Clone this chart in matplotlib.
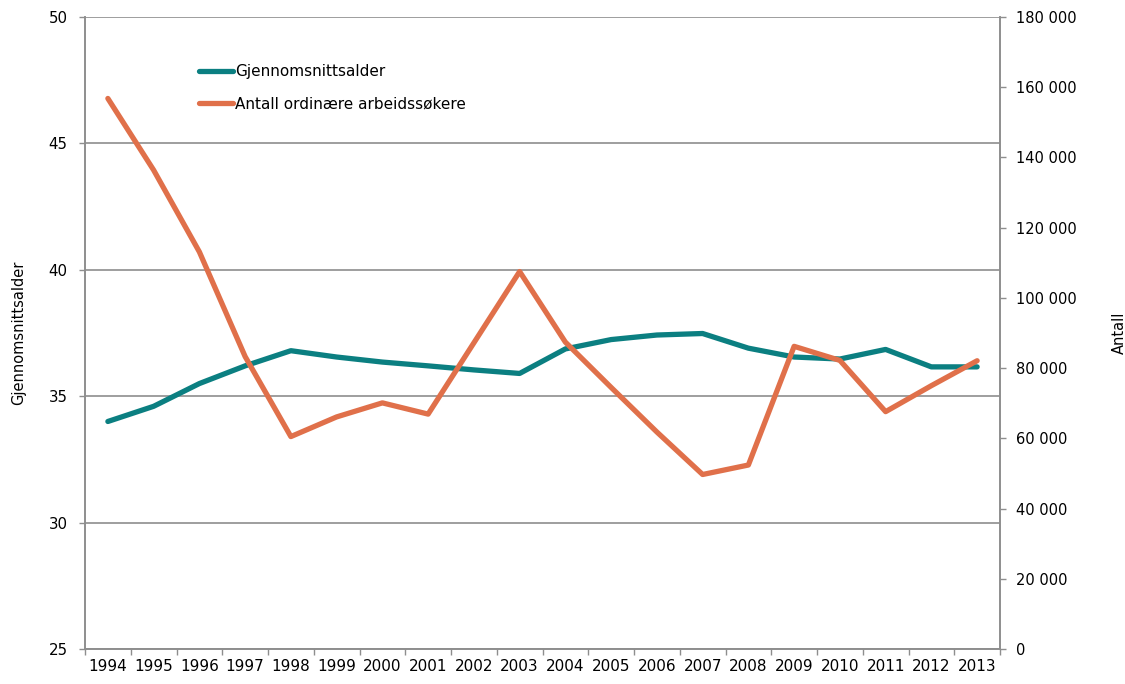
import matplotlib
matplotlib.use("Agg")
import matplotlib.pyplot as plt
from matplotlib.ticker import FixedLocator, FuncFormatter

years = [str(y) for y in range(1994, 2014)]
mean_age = [34.0, 34.6, 35.5, 36.2, 36.8, 36.55, 36.35, 36.2, 36.04, 35.9,
            36.87, 37.24, 37.42, 37.48, 36.9, 36.55, 36.47, 36.85, 36.16, 36.16]
job_seekers = [156800, 136400, 113100, 83300, 60500, 66100, 70100, 66900, 87200, 107500,
               87400, 74500, 61800, 49700, 52400, 86200, 82200, 67600, 75000, 82100]

left_ticks = [25, 30, 35, 40, 45, 50]
right_ticks = list(range(0, 180001, 20000))

teal = "#0B7F81"
orange = "#E0704A"
grid_grey = "#8E8E8E"

plt.rcParams["font.family"] = ["DejaVu Sans"]

fig = plt.figure(figsize=(11.25, 6.84), dpi=100)
ax = fig.add_axes([85 / 1125, 1 - 649 / 684, 915 / 1125, 632 / 684])
ax2 = ax.twinx()

x = list(range(len(years)))
ax.plot(x, mean_age, color=teal, lw=3.8, solid_joinstyle="round",
        solid_capstyle="round", label="Gjennomsnittsalder")
ax2.plot(x, job_seekers, color=orange, lw=3.8, solid_joinstyle="round",
         solid_capstyle="round", label="Antall ordinære arbeidssøkere")

ax.set_xlim(-0.5, len(years) - 0.5)
ax.set_ylim(25, 50)
ax2.set_ylim(0, 180000)

# horizontal grid follows the left axis
ax.set_yticks(left_ticks)
ax.yaxis.grid(True, color=grid_grey, lw=1.2)
ax.set_axisbelow(True)

ax2.set_yticks(right_ticks)
ax2.yaxis.set_major_formatter(FuncFormatter(lambda v, p: f"{int(v):,}".replace(",", " ")))

# year labels centred, tick marks on category boundaries
ax.set_xticks(x)
ax.set_xticklabels(years)
ax.xaxis.set_minor_locator(FixedLocator([i - 0.5 for i in range(len(years) + 1)]))
ax.tick_params(axis="x", which="major", length=0, pad=7, labelsize=11)
ax.tick_params(axis="x", which="minor", length=4, width=1, color=grid_grey)
ax.tick_params(axis="y", length=4.5, width=1, color=grid_grey, pad=8, labelsize=10.8)
ax2.tick_params(axis="y", length=4.5, width=1, color=grid_grey, pad=7, labelsize=10.5)

for a in (ax, ax2):
    for side in a.spines.values():
        side.set_color(grid_grey)
        side.set_linewidth(1.2)
    a.spines["top"].set_visible(False)

ax.set_ylabel("Gjennomsnittsalder", fontsize=10.5, va="center")
ax.yaxis.set_label_coords(-0.073, 0.5)
ax2.set_ylabel("Antall", fontsize=10.5, va="center", rotation=90)
ax2.yaxis.set_label_coords(1.13, 0.5)

h1, l1 = ax.get_legend_handles_labels()
h2, l2 = ax2.get_legend_handles_labels()
ax2.legend(h1 + h2, l1 + l2, loc="upper left", bbox_to_anchor=(0.118, 0.935),
           frameon=False, fontsize=11, handlelength=2.2, handletextpad=0.15,
           labelspacing=1.15, borderaxespad=0)

fig.savefig("out.png", dpi=100)
